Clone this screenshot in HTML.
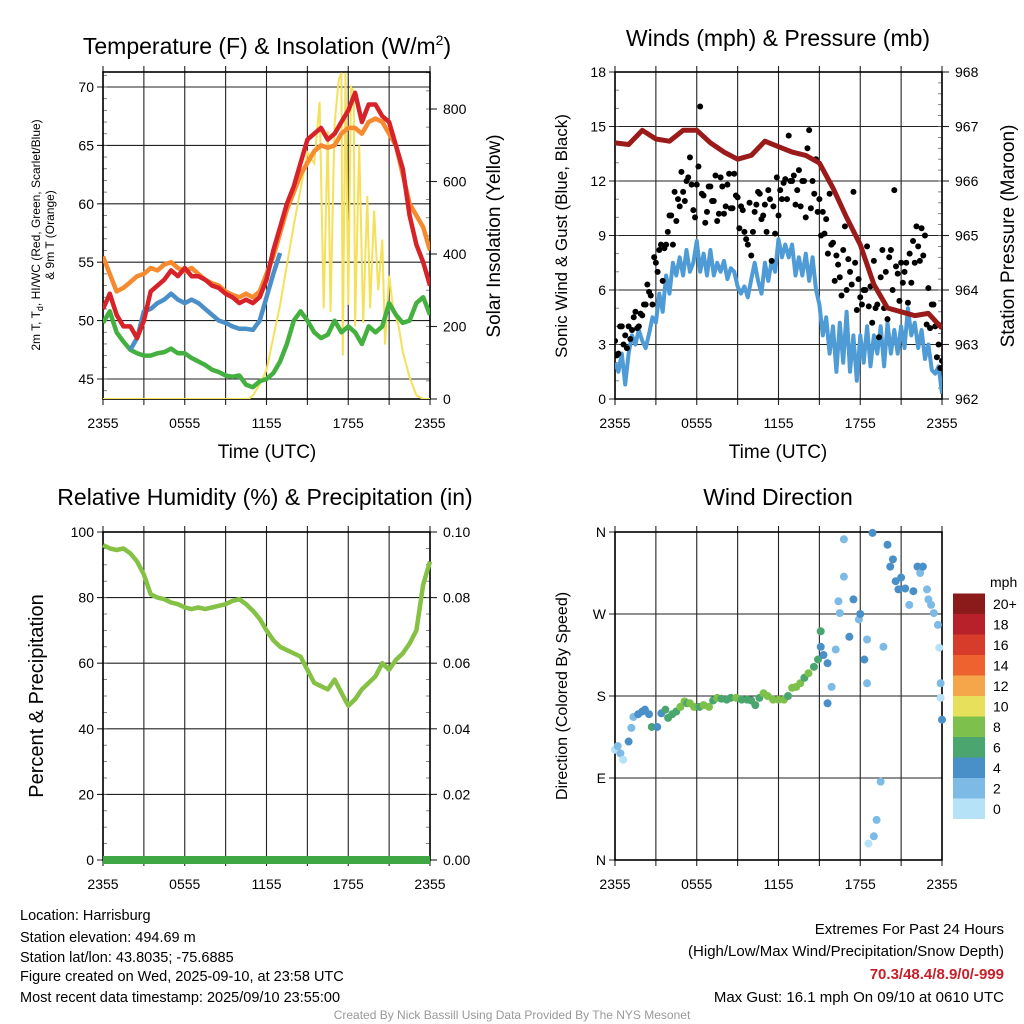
<!DOCTYPE html>
<html><head><meta charset="utf-8">
<style>
body{margin:0;background:#fff;}
svg{display:block;font-family:"Liberation Sans",sans-serif;}
</style></head>
<body>
<svg id="chart" width="1024" height="1024" viewBox="0 0 1024 1024" xmlns="http://www.w3.org/2000/svg">
<rect width="1024" height="1024" fill="#fff"/>
<g id="layer"></g>
<text x="267" y="54" font-size="23" text-anchor="middle">Temperature (F) &amp; Insolation (W/m<tspan font-size="14" dy="-9">2</tspan><tspan dy="9">)</tspan></text>
<text x="778" y="46" font-size="23" text-anchor="middle">Winds (mph) &amp; Pressure (mb)</text>
<text x="265" y="505" font-size="23" text-anchor="middle">Relative Humidity (%) &amp; Precipitation (in)</text>
<text x="778" y="505" font-size="23" text-anchor="middle">Wind Direction</text>

<text x="267" y="458" font-size="19" text-anchor="middle">Time (UTC)</text>
<text x="778" y="458" font-size="19" text-anchor="middle">Time (UTC)</text>

<g font-size="12" text-anchor="middle">
<text transform="translate(40,235) rotate(-90)">2m T, T<tspan font-size="9" dy="3">d</tspan><tspan dy="-3">, HI/WC (Red, Green, Scarlet/Blue)</tspan></text>
<text transform="translate(54,235) rotate(-90)">&amp; 9m T (Orange)</text>
</g>
<text transform="translate(500,236) rotate(-90)" font-size="19" text-anchor="middle">Solar Insolation (Yellow)</text>
<text transform="translate(567,236) rotate(-90)" font-size="17" text-anchor="middle">Sonic Wind &amp; Gust (Blue, Black)</text>
<text transform="translate(1014,236) rotate(-90)" font-size="19" text-anchor="middle">Station Pressure (Maroon)</text>
<text transform="translate(43,696) rotate(-90)" font-size="20" text-anchor="middle">Percent &amp; Precipitation</text>
<text transform="translate(567,696) rotate(-90)" font-size="16" text-anchor="middle">Direction (Colored By Speed)</text>

<g font-size="14.5">
<text x="20" y="920">Location: Harrisburg</text>
<text x="20" y="942">Station elevation: 494.69 m</text>
<text x="20" y="962">Station lat/lon: 43.8035; -75.6885</text>
<text x="20" y="981">Figure created on Wed, 2025-09-10, at 23:58 UTC</text>
<text x="20" y="1002">Most recent data timestamp: 2025/09/10 23:55:00</text>
</g>
<g font-size="15" text-anchor="end">
<text x="1004" y="934">Extremes For Past 24 Hours</text>
<text x="1004" y="956">(High/Low/Max Wind/Precipitation/Snow Depth)</text>
<text x="1004" y="979" fill="#c8202a" font-weight="bold">70.3/48.4/8.9/0/-999</text>
<text x="1004" y="1002">Max Gust: 16.1 mph On 09/10 at 0610 UTC</text>
</g>
<text x="512" y="1019" font-size="12" fill="#999" text-anchor="middle">Created By Nick Bassill Using Data Provided By The NYS Mesonet</text>
</svg>
<script>
// ---- data ----
const hoursHalf = [0,0.5,1,1.5,2,2.5,3,3.5,4,4.5,5,5.5,6,6.5,7,7.5,8,8.5,9,9.5,10,10.5,11,11.5,12,12.5,13,13.5,14,14.5,15,15.5,16,16.5,17,17.5,18,18.5,19,19.5,20,20.5,21,21.5,22,22.5,23,23.5,24];
const tempRed = [51,52.3,50.5,49.5,49.5,48.5,50,52.5,53,53.5,54.3,53.8,54.5,53.8,53.8,53.5,53,52.8,52.3,52,51.5,51.8,51.5,52,53.5,56,58,60,61.5,63.5,65.5,66,66.5,65.5,66,67,68,69.5,67,68.5,68.5,67.5,67,65,63,59,56.5,55,53];
const temp9m = [55.5,54,52.5,52.8,53.3,53.8,54,54.5,54.3,54.8,55,54.5,54.2,54.5,54,53.5,53.2,53,52.5,52.2,52,52.3,52,52.5,54,55.5,57.5,59.5,61,62.5,63.5,64.5,65,64.8,65,66,66.5,66.5,66,67,67.3,67,66,65,62.5,60,59,58,56];
const heatIdx = [null,null,null,null,47.5,48.5,50.8,51,51.5,51.8,52.3,51.8,51.5,51.8,51.5,51,50.5,50,49.8,49.5,49.3,49.3,49.2,50,52,54,55.8,null,null,null,null,null,null,null,null,null,null,null,null,null,null,null,null,null,null,null,null,null,null];
const dewPt = [49.8,50.8,49,48.2,47.5,47.2,47,47,47.2,47.3,47.6,47.2,47.2,46.8,46.5,46.2,45.8,45.6,45.3,45.2,45.3,44.5,44.3,44.8,45,45.5,46.5,48,50,50.8,50,49,48.5,48.8,50,49,49.5,49,48,49.5,49,49.5,51.5,50.5,49.8,50,51.5,52,50.5];
const solarT = [0,10.7,11,11.5,12,12.5,13,13.5,14,14.5,15,15.5,15.9,16.2,16.5,16.7,17,17.3,17.5,17.6,17.8,18.0,18.2,18.4,18.5,18.8,19.1,19.4,19.6,19.9,20.2,20.5,20.7,21,21.3,21.7,22,22.5,23,23.5,24];
const solarV = [0,0,10,40,80,170,260,370,480,580,680,650,820,250,740,240,760,880,900,120,900,260,860,850,200,700,210,560,250,520,300,440,150,340,250,200,130,60,10,0,0];
const windHours = Array.from({length:97},(_, i)=>i*0.25);
const windSpd = [2.0,1.5,2.5,0.8,2.5,3.5,3.0,3.8,3.2,2.8,3.6,4.5,4.2,5.8,4.8,6.8,5.8,7.5,6.8,7.8,6.8,8.2,7.0,7.5,8.7,7.0,8.0,6.8,8.2,6.8,7.5,7.0,7.6,6.6,7.2,7.0,6.2,5.8,6.2,5.6,6.6,7.5,6.5,5.8,7.5,6.5,7.6,7.0,8.8,7.8,8.5,7.8,8.5,6.8,7.8,6.8,8.0,6.5,7.8,6.0,5.2,3.5,4.5,2.5,4.0,1.5,4.2,2.0,4.8,1.5,3.5,1.0,3.5,2.0,4.0,1.8,3.5,2.5,4.0,1.8,4.2,2.5,3.8,2.5,4.0,2.8,5.0,3.5,4.2,2.8,3.8,2.2,3.0,1.6,1.4,1.8,0.3];
const gustT1 = Array.from({length:97},(_, i)=>i*0.25);
const gustV1 = [3.2,2.5,4.0,3.5,4.0,3.8,4.8,4.0,4.6,5.2,5.9,5.2,7.5,8.2,6.5,8.5,10.1,8.5,9.8,10.6,11.4,12.0,13.3,10.4,11.8,16.1,11.2,10.3,11.7,10.9,9.8,12.2,10.2,11.8,10.5,12.4,11.1,10.6,9.2,8.5,7.9,10.3,11.4,9.9,10.7,11.5,7.6,9.1,10.1,11.0,12.1,14.5,12.0,10.7,12.6,12.0,10.0,14.8,12.0,13.2,11.0,10.3,9.9,11.3,8.6,7.9,6.7,8.2,6.0,7.0,11.4,4.9,5.6,6.0,8.4,6.2,7.6,5.2,6.7,5.0,4.4,8.2,11.5,6.9,7.5,7.0,5.3,6.4,7.5,8.4,9.4,9.0,6.1,5.2,4.0,3.0,2.1];
const gustT2 = Array.from({length:96},(_, i)=>0.125+i*0.25);
const gustV2 = [2.4,4.0,3.0,2.8,3.3,4.5,3.9,4.7,5.2,6.3,5.7,7.8,7.0,8.5,8.3,9.2,10.1,11.4,11.0,12.5,10.9,12.2,11.8,10.0,12.8,11.3,9.7,11.7,10.9,12.3,10.2,11.7,10.6,12.4,10.5,11.2,9.4,10.4,8.8,10.8,9.2,10.7,11.3,10.1,9.2,11.0,10.6,12.2,11.5,11.9,11.0,12.0,12.3,11.5,10.6,12.0,13.8,10.5,11.3,10.3,9.0,9.1,8.0,8.5,6.5,7.4,5.7,9.5,7.7,6.3,7.5,6.6,5.2,6.0,5.1,4.2,5.0,3.4,8.2,7.0,7.8,6.0,7.3,5.4,6.4,7.5,8.0,8.7,9.5,7.6,7.9,4.1,3.9,5.2,2.3,1.7];
const presHours = [0,1,2,3,4,5,6,7,8,9,10,11,12,13,14,15,16,17,18,19,20,21,22,23,24];
const presMb = [966.70,966.67,966.93,966.77,966.73,966.93,966.93,966.70,966.53,966.40,966.47,966.73,966.63,966.53,966.47,966.33,965.87,965.33,964.83,964.10,963.67,963.60,963.53,963.57,963.30];
const rhVals = [96,95,94.5,95,93.5,91,87,81,80,79.5,78.5,78,77,76.5,77,76.5,77,77.5,78,79,79.5,78,76,73.5,70,67,65,64,63,62,58,54,53,52,55,51,47,49,52,54,56,60,58,61,63,66,70,84,91];
const precipVals = hoursHalf.map(()=>0);
const dirT = [0,0.2,0.4,0.6,1.0,1.2,1.35,1.7,2.0,2.2,2.5,2.7,3.1,3.4,3.7,3.9,4.2,4.5,4.8,5.1,5.3,5.5,5.8,6.2,6.5,6.9,7.2,7.5,7.8,8.2,8.5,8.9,9.3,9.7,10.0,10.3,10.6,10.9,11.2,11.6,12.0,12.4,12.7,13.0,13.3,13.6,13.9,14.2,14.6,14.9,15.1,15.1,15.3,15.6,15.6,15.9,16.2,16.4,16.5,16.8,16.8,17.2,17.5,17.9,18.0,18.3,18.5,18.5,18.6,18.9,19.0,19.2,19.5,19.7,20.0,20.2,20.4,20.6,20.8,21.0,21.3,21.6,21.9,22.2,22.4,22.6,22.9,23.0,23.2,23.4,23.7,23.8,23.9,23.9,24.0];
const dirV = [121,125,117,110,130,145,157,160,163,165,160,146,146,161,165,156,160,163,168,174,172,172,168,168,170,168,175,178,177,176,178,178,176,176,175,170,178,183,180,176,176,176,180,189,190,194,200,205,212,220,251,234,225,216,172,190,231,284,271,311,352,245,286,264,270,220,242,194,18,359,26,44,86,234,346,322,330,306,297,310,298,280,295,322,315,322,297,286,280,271,258,233,194,178,154];
const dirS = [1.5,3,2,1,5,3,3,5,4,5,4,6,5,5,6,7,6,7,8,8,7,9,8,7,8,9,7,8,7,7,6,8,7,7,6,7,7,8,9,8,8,8,7,8,9,9,7,8,6,7,7,5,5,4,4,3,3,3,2,3,3,4,5,3,5,4,3,3,1,4,3,2,3,3,4,5,4,5,5,4,5,3,4,5,3,4,3,2,3,2,2,1,2,1,4];
const cbColors = ['#b5e2f7','#7dbbe6','#4a90c8','#4aa56e','#7dc04b','#e6e05a','#f5a54a','#ee6230','#d73b2a','#b8212a','#8b1a1a'];
const cbLabels = ['0','2','4','6','8','10','12','14','16','18','20+'];
const timeTickLabels = ['2355','0555','1155','1755','2355'];

// ---- helpers ----
const NS='http://www.w3.org/2000/svg';
const layer=document.getElementById('layer');
function mk(tag,attrs,parent){const e=document.createElementNS(NS,tag);for(const k in attrs)e.setAttribute(k,attrs[k]);(parent||layer).appendChild(e);return e;}
function lin(d0,d1,r0,r1){return v=>r0+(v-d0)*(r1-r0)/(d1-d0);}
function linePath(xs,ys,fx,fy){let d='',pen=false;for(let i=0;i<xs.length;i++){if(ys[i]==null){pen=false;continue;}d+=(pen?'L':'M')+fx(xs[i]).toFixed(1)+','+fy(ys[i]).toFixed(1);pen=true;}return d;}

function frame(name,L,R,T,B,fx,leftTicks,fyL,rightTicks,fyR,leftFmt,rightFmt,leftMinor,rightMinor){
  const g=mk('g',{});
  
  
  for(let h=0;h<=24;h+=3){mk('line',{x1:fx(h),x2:fx(h),y1:T-6,y2:B+6,stroke:'#222','stroke-width':1.1},g);}
  leftTicks.forEach(v=>{const y=fyL(v);mk('line',{x1:L-6,x2:R,y1:y,y2:y,stroke:'#222','stroke-width':1.1},g);
    const t=mk('text',{x:L-9,y:y+5,'font-size':14,'text-anchor':'end'},g);t.textContent=leftFmt(v);});
  (leftMinor||[]).forEach(v=>{const y=fyL(v);mk('line',{x1:L,x2:L+4,y1:y,y2:y,stroke:'#666','stroke-width':0.8},g);});
  if(rightTicks){rightTicks.forEach(v=>{const y=fyR(v);mk('line',{x1:R,x2:R+7,y1:y,y2:y,stroke:'#222','stroke-width':1.1},g);
    const t=mk('text',{x:R+13,y:y+5,'font-size':14},g);t.textContent=rightFmt(v);});
   (rightMinor||[]).forEach(v=>{const y=fyR(v);mk('line',{x1:R-4,x2:R,y1:y,y2:y,stroke:'#666','stroke-width':0.8},g);});}
  timeTickLabels.forEach((s,i)=>{const t=mk('text',{x:fx(i*6),y:B+29,'font-size':14,'text-anchor':'middle'},g);t.textContent=s;});
  mk('rect',{x:L,y:T,width:R-L,height:B-T,fill:'none',stroke:'#000','stroke-width':1.6},g);
  return g;
}
function range(a,b,s){const r=[];for(let v=a;v<=b+1e-9;v+=s)r.push(+v.toFixed(4));return r;}

// ---- Panel 1: temperature ----
{
 const L=103,R=430,T=72,B=399;
 const fx=lin(0,24,L,R);
 const fy=lin(45,70,379,87);
 const fs=lin(0,800,399,109);
 frame('temp',L,R,T,B,fx,[45,50,55,60,65,70],fy,[0,200,400,600,800],fs,v=>String(v),v=>String(v),range(44,71,1),range(0,900,50));
 const clip=mk('clipPath',{id:'c1'});mk('rect',{x:L,y:T,width:R-L,height:B-T},clip);
 const g=mk('g',{'clip-path':'url(#c1)'});
 const s=mk('path',{d:linePath(solarT,solarV,fx,fs),fill:'none',stroke:'#f5e05a','stroke-width':2},g);
 
 
 const o=mk('path',{d:linePath(hoursHalf,temp9m,fx,fy),fill:'none',stroke:'#f58a2e','stroke-width':4.5,'stroke-linejoin':'round'},g);
 
 
 const gr=mk('path',{d:linePath(hoursHalf,dewPt,fx,fy),fill:'none',stroke:'#44b03f','stroke-width':4.5,'stroke-linejoin':'round'},g);
 
 
 const bl=mk('path',{d:linePath(hoursHalf,heatIdx,fx,fy),fill:'none',stroke:'#4a8fc8','stroke-width':4.5,'stroke-linejoin':'round'},g);
 
 
 const r=mk('path',{d:linePath(hoursHalf,tempRed,fx,fy),fill:'none',stroke:'#d62228','stroke-width':4.5,'stroke-linejoin':'round'},g);
 
 
}

// ---- Panel 2: winds ----
{
 const L=615,R=942,T=72,B=399;
 const fx=lin(0,24,L,R);
 const fy=lin(0,18,B,T);
 const fp=lin(962,968,B,T);
 frame('wind',L,R,T,B,fx,[0,3,6,9,12,15,18],fy,[962,963,964,965,966,967,968],fp,v=>String(v),v=>String(v),range(0,18,1),range(962,968,0.2));
 const clip=mk('clipPath',{id:'c2'});mk('rect',{x:L,y:T,width:R-L,height:B-T},clip);
 const g=mk('g',{'clip-path':'url(#c2)'});
 const w=mk('path',{d:linePath(windHours,windSpd,fx,fy),fill:'none',stroke:'#4f9bd6','stroke-width':4,'stroke-linejoin':'round'},g);
 
 
 [[gustT1,gustV1],[gustT2,gustV2]].forEach(([ts,vs])=>{
  for(let i=0;i<ts.length;i++){
   const c=mk('circle',{cx:fx(ts[i]),cy:fy(vs[i]),r:3,fill:'#000'},g);
   
   
  }
 });
 const p=mk('path',{d:linePath(presHours,presMb,fx,fp),fill:'none',stroke:'#9b1a1a','stroke-width':5,'stroke-linejoin':'round'},g);
 
 
}

// ---- Panel 3: RH ----
{
 const L=103,R=430,T=532,B=860;
 const fx=lin(0,24,L,R);
 const fy=lin(0,100,B,T);
 const fpr=lin(0,0.1,B,T);
 frame('rh',L,R,T,B,fx,[0,20,40,60,80,100],fy,[0,0.02,0.04,0.06,0.08,0.1],fpr,v=>String(v),v=>v.toFixed(2),range(0,100,5),range(0,0.1,0.005));
 const g=mk('g',{});
 const h=mk('path',{d:linePath(hoursHalf,rhVals,fx,fy),fill:'none',stroke:'#85c145','stroke-width':4.5,'stroke-linejoin':'round'},g);
 
 
 const pr=mk('path',{d:linePath(hoursHalf,precipVals,fx,fpr),fill:'none',stroke:'#3fa844','stroke-width':8},g);
 
 
}

// ---- Panel 4: direction ----
{
 const L=615,R=942,T=532,B=860;
 const fx=lin(0,24,L,R);
 const fy=lin(0,360,B,T);
 frame('dir',L,R,T,B,fx,[0,90,180,270,360],fy,null,null,v=>['N','E','S','W','N'][v/90],null,null,null);
 const g=mk('g',{});
 for(let i=0;i<dirT.length;i++){
  const idx=Math.min(10,Math.floor(dirS[i]/2));
  const c=mk('circle',{cx:fx(dirT[i]),cy:fy(dirV[i]),r:4,fill:cbColors[idx]},g);
  
  
 }
 const cb=mk('g',{});
 
 
 const h=20.5,x0=953,yb=819;
 cbColors.forEach((c,i)=>{mk('rect',{x:x0,y:yb-(i+1)*h,width:32,height:h,fill:c},cb);
   const t=mk('text',{x:993,y:yb-i*h-h/2+5,'font-size':14},cb);t.textContent=cbLabels[i];});
 const u=mk('text',{x:990,y:587,'font-size':14},cb);u.textContent='mph';
}
</script>
</body></html>
